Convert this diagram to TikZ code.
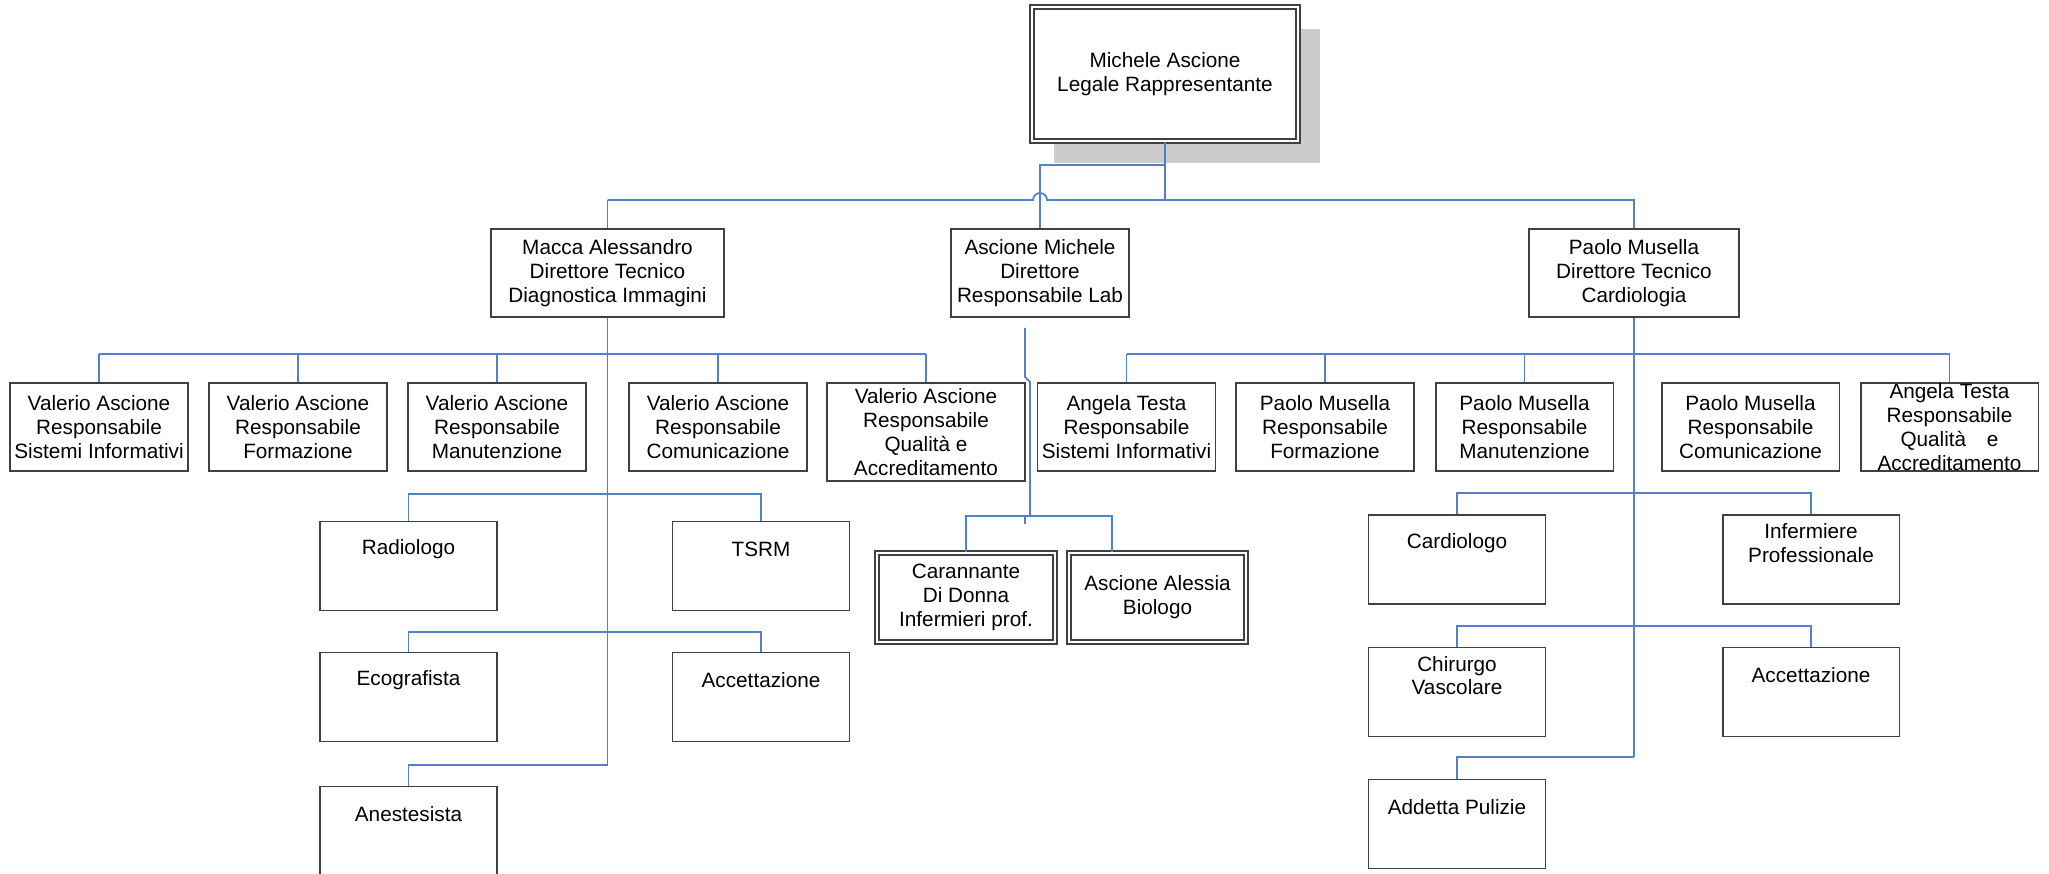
\documentclass[tikz,border=0pt]{standalone}
\usepackage{fontspec}
\setmainfont{Liberation Sans}
\usetikzlibrary{shadows}
\definecolor{orgline}{RGB}{82,129,204}
\definecolor{boxline}{RGB}{64,64,64}

\begin{document}
\begin{tikzpicture}[x=0.02cm, y=-0.02cm,
        every node/.style={font=\fontsize{11.8}{13.6}\selectfont, align=center},
        role/.style={draw=boxline, line width=1.1pt, fill=white, inner sep=0pt},
        dbl/.style={draw=boxline, line width=0.8pt, double=white, double distance=1.4pt, fill=white, inner sep=0pt},
        resp/.style={role, minimum width=3.56cm, minimum height=1.76cm},
        unit/.style={role, minimum width=3.54cm, minimum height=1.78cm},
        toplbl/.style={anchor=center, yshift=-0.58cm, align=center},
        link/.style={draw=orgline, line width=1pt}]

        \useasboundingbox (0,0) rectangle (2049,873);

        % bus rows
        \coordinate (busTop) at (0,165);
        \coordinate (busA) at (0,200);
        \coordinate (busB) at (0,354);
        \coordinate (busL) at (0,516);
        \coordinate (rowL1) at (0,494);
        \coordinate (rowL2) at (0,632);
        \coordinate (rowL3) at (0,765);
        \coordinate (rowR1) at (0,493);
        \coordinate (rowR2) at (0,626);
        \coordinate (rowR3) at (0,757);

        % Legal representative
        \node[dbl, minimum width=5.32cm, minimum height=2.68cm,
              drop shadow={shadow xshift=0.44cm, shadow yshift=-0.44cm, fill=black!20, opacity=1}]
              (legale) at (1165,74) {Michele Ascione\\Legale Rappresentante};

        % Directors
        \node[role, minimum width=4.66cm, minimum height=1.76cm] (macca) at (607.5,273) {Macca Alessandro\\Direttore Tecnico\\Diagnostica Immagini};
        \node[role, minimum width=3.56cm, minimum height=1.76cm] (direttore) at (1040,273) {Ascione Michele\\Direttore\\Responsabile Lab};
        \node[role, minimum width=4.2cm, minimum height=1.76cm] (musella) at (1634,273) {Paolo Musella\\Direttore Tecnico\\Cardiologia};

        % Responsabili, left
        \node[resp] (sistemiL) at (99,427) {Valerio Ascione\\Responsabile\\Sistemi Informativi};
        \node[resp] (formazioneL) at (298,427) {Valerio Ascione\\Responsabile\\Formazione};
        \node[resp] (manutenzioneL) at (497,427) {Valerio Ascione\\Responsabile\\Manutenzione};
        \node[resp] (comunicazioneL) at (718,427) {Valerio Ascione\\Responsabile\\Comunicazione};
        \node[resp, minimum width=3.96cm, minimum height=1.96cm] (qualitaL) at (926,432) {Valerio Ascione\\Responsabile\\Qualità e\\Accreditamento};

        % Responsabili, right
        \node[resp] (sistemiR) at (1126.5,427) {Angela Testa\\Responsabile\\Sistemi Informativi};
        \node[resp] (formazioneR) at (1325,427) {Paolo Musella\\Responsabile\\Formazione};
        \node[resp] (manutenzioneR) at (1524.5,427) {Paolo Musella\\Responsabile\\Manutenzione};
        \node[resp] (comunicazioneR) at (1750.5,427) {Paolo Musella\\Responsabile\\Comunicazione};
        \node[resp] (qualitaR) at (1949.5,427) {Angela Testa\\Responsabile\\Qualità\quad e\\Accreditamento};

        % Diagnostica Immagini staff
        \node[unit, label={[toplbl]north:Radiologo}] (radiologo) at (408.5,566) {};
        \node[unit, label={[toplbl]north:TSRM}] (tsrm) at (761,566) {};
        \node[unit, label={[toplbl]north:Ecografista}] (ecografista) at (408.5,697) {};
        \node[unit, label={[toplbl]north:Accettazione}] (accettazioneL) at (761,697) {};
        \node[unit, label={[toplbl]north:Anestesista}] (anestesista) at (408.5,831) {};

        % Lab staff
        \node[dbl, minimum width=3.56cm, minimum height=1.78cm] (carannante) at (966,597.5) {Carannante\\Di Donna\\Infermieri prof.};
        \node[dbl, minimum width=3.54cm, minimum height=1.78cm] (alessia) at (1157.5,597.5) {Ascione Alessia\\Biologo};

        % Cardiologia staff
        \node[unit, label={[toplbl]north:Cardiologo}] (cardiologo) at (1457,559.5) {};
        \node[unit, label={[toplbl]north:Infermiere\\Professionale}] (infermiere) at (1811,559.5) {};
        \node[unit, label={[toplbl]north:Chirurgo\\Vascolare}] (chirurgo) at (1457,692) {};
        \node[unit, label={[toplbl]north:Accettazione}] (accettazioneR) at (1811,692) {};
        \node[unit, label={[toplbl]north:Addetta Pulizie}] (pulizie) at (1457,824) {};

        % top level links
        \draw[link, line width=1.6pt] (legale.south) -- (legale.south |- busA);
        \draw[link] (legale.south |- busTop) -| (direttore.north);
        \draw[link] (macca.north |- busA) -- ([xshift=-0.14cm]direttore.north |- busA)
            arc[start angle=180, end angle=0, radius=0.14cm] -- (musella.north |- busA) -- (musella.north);
        \draw[link] (macca.north |- busA) -- (macca.north);

        % left branch
        \draw[link] (macca.south) -- (macca.south |- rowL3);
        \draw[link] (sistemiL.north |- busB) -- (qualitaL.north |- busB)
            (sistemiL.north |- busB) -- (sistemiL.north)
            (formazioneL.north |- busB) -- (formazioneL.north)
            (manutenzioneL.north |- busB) -- (manutenzioneL.north)
            (comunicazioneL.north |- busB) -- (comunicazioneL.north)
            (qualitaL.north |- busB) -- (qualitaL.north);
        \draw[link] (radiologo.north) |- (tsrm.north |- rowL1) -- (tsrm.north);
        \draw[link] (ecografista.north) |- (accettazioneL.north |- rowL2) -- (accettazioneL.north);
        \draw[link] (anestesista.north) |- (macca.south |- rowL3);

        % lab branch
        \draw[link] ([shift={(-15,10)}]direttore.south) -- ++(0,49) -- ++(5,5) coordinate (jog) -- (jog |- busL);
        \draw[link] ([xshift=-0.1cm]jog |- busL) -- ++(0,8);
        \coordinate (alessiaIn) at ([xshift=0.88cm]alessia.north west);
        \draw[link] (carannante.north) |- (alessiaIn |- busL) -- (alessiaIn);

        % right branch
        \draw[link] (musella.south) -- (musella.south |- rowR3);
        \draw[link] (sistemiR.north |- busB) -- (qualitaR.north |- busB)
            (sistemiR.north |- busB) -- (sistemiR.north)
            (formazioneR.north |- busB) -- (formazioneR.north)
            (manutenzioneR.north |- busB) -- (manutenzioneR.north)
            (qualitaR.north |- busB) -- (qualitaR.north);
        \draw[link] (cardiologo.north) |- (infermiere.north |- rowR1) -- (infermiere.north);
        \draw[link] (chirurgo.north) |- (accettazioneR.north |- rowR2) -- (accettazioneR.north);
        \draw[link] (pulizie.north) |- (musella.south |- rowR3);

\end{tikzpicture}
\end{document}
